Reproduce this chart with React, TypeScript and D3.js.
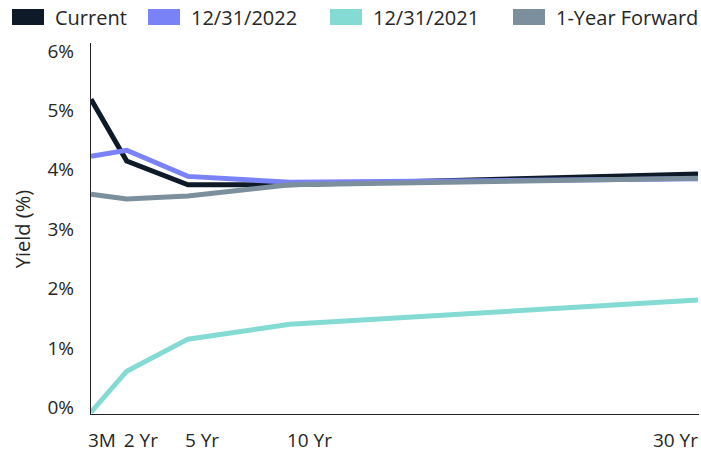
import React from "react";
import * as d3 from "d3";

// Treasury yield curves, tenor in years vs. yield in %
const tenors = [0.25, 2, 5, 10, 30];
const tenorLabels = ["3M", "2 Yr", "5 Yr", "10 Yr", "30 Yr"];

const current = [5.3, 4.26, 3.86, 3.86, 4.04];
const dec2022 = [4.34, 4.44, 4.0, 3.9, 3.96];
const dec2021 = [0.03, 0.72, 1.26, 1.51, 1.92];
const forward1y = [3.7, 3.62, 3.67, 3.86, 3.97];

const yTicks = [0, 1, 2, 3, 4, 5, 6];

const seriesNames = ["Current", "12/31/2022", "12/31/2021", "1-Year Forward"];
const seriesColors = ["#0e1a28", "#7a82f7", "#84dbd3", "#7b8f9c"];
const seriesValues = [current, dec2022, dec2021, forward1y];

const W = 701;
const H = 453;
const FONT = "'Open Sans', 'DejaVu Sans', sans-serif";
const TEXT = "#262626";

export default function App() {
  const x = d3.scaleLinear().domain([0.25, 30]).range([91, 698]);
  const y = d3.scaleLinear().domain([0, 6]).range([414, 57.6]);

  const line = d3
    .line<number>()
    .x((_, i) => x(tenors[i]))
    .y((v) => y(v));

  const legendX = [12, 148, 330, 513];

  // draw order: current, 12/31/2022, 12/31/2021, forward on top
  return (
    <svg
      width={W}
      height={H}
      style={{ position: "absolute", left: 0, top: 0, background: "#fff" }}
      fontFamily={FONT}
    >
      {/* legend */}
      {seriesNames.map((name, i) => (
        <g key={name} transform={`translate(${legendX[i]},0)`}>
          <rect x={0} y={9} width={32} height={16} fill={seriesColors[i]} />
          <text x={43} y={25} fontSize={20} fill={TEXT}>
            {name}
          </text>
        </g>
      ))}

      {/* y axis */}
      <line x1={90.5} x2={90.5} y1={43} y2={415} stroke="#222" strokeWidth={1} />
      {yTicks.map((t) => (
        <text
          key={t}
          x={74}
          y={y(t)}
          textAnchor="end"
          fontSize={19}
          fill={TEXT}
        >
          {`${t}%`}
        </text>
      ))}
      <text
        transform={`translate(30,229) rotate(-90)`}
        textAnchor="middle"
        fontSize={20}
        fill={TEXT}
      >
        Yield (%)
      </text>

      {/* x axis */}
      <line x1={90} x2={699} y1={414.5} y2={414.5} stroke="#222" strokeWidth={1} />
      {tenors.map((t, i) => {
        const last = i === tenors.length - 1;
        return (
          <text
            key={tenorLabels[i]}
            x={last ? x(t) : x(t) - 3}
            y={447}
            textAnchor={last ? "end" : "start"}
            fontSize={19}
            fill={TEXT}
          >
            {tenorLabels[i]}
          </text>
        );
      })}

      {/* curves */}
      <defs>
        <clipPath id="plot-clip">
          <rect x={91} y={40} width={608} height={374} />
        </clipPath>
      </defs>
      <g clipPath="url(#plot-clip)">
        {seriesValues.map((vals, i) => (
          <path
            key={seriesNames[i]}
            d={line(vals) || ""}
            fill="none"
            stroke={seriesColors[i]}
            strokeWidth={5}
          />
        ))}
      </g>
    </svg>
  );
}
